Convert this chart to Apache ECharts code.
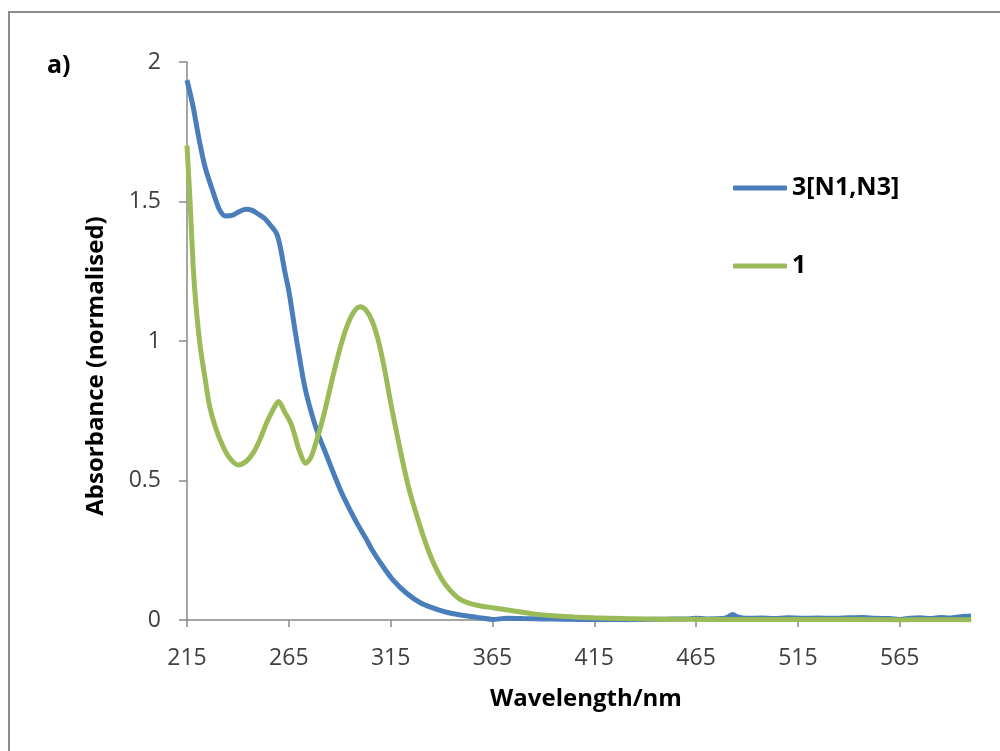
<!DOCTYPE html>
<html>
<head>
<meta charset="utf-8">
<script src="https://cdn.jsdelivr.net/npm/echarts@6/dist/echarts.min.js"></script>
<style>
  html, body { margin: 0; padding: 0; background: #fff; }
  #chart { width: 1000px; height: 751px; }
</style>
</head>
<body>
<div id="chart"></div>
<script>
// x tick labels (nm)
const xTicks = [215, 265, 315, 365, 415, 465, 515, 565]
const yTicks = [0, 0.5, 1, 1.5, 2]

// 3[N1,N3] - [wavelength, absorbance]
const seriesBlue = [
  [215, 1.935], [218, 1.84], [221, 1.72], [224, 1.62], [228, 1.53], [231, 1.47],
  [234, 1.448], [237, 1.45], [241, 1.465], [244, 1.472], [247, 1.468], [250, 1.455],
  [253, 1.44], [256, 1.415], [259, 1.385], [261, 1.33], [263, 1.25], [265, 1.18],
  [268, 1.04], [270.5, 0.93], [273, 0.83], [277, 0.72], [280, 0.655], [283, 0.6],
  [287, 0.525], [291, 0.455], [295, 0.395], [299, 0.34], [303, 0.29], [306, 0.25],
  [310, 0.205], [316, 0.145], [323, 0.095], [330, 0.06], [337, 0.04], [344, 0.025],
  [352, 0.015], [360, 0.007], [365, 0.002], [372, 0.006], [380, 0.005], [390, 0.004],
  [400, 0.003], [410, 0.002], [420, 0.002], [430, 0.001], [440, 0.002], [450, 0.003],
  [460, 0.004], [465, 0.006], [470, 0.004], [478, 0.005], [481, 0.012], [483, 0.02],
  [485, 0.012], [490, 0.006], [497, 0.007], [503, 0.005], [510, 0.008], [518, 0.006],
  [525, 0.007], [532, 0.006], [540, 0.008], [547, 0.009], [553, 0.006], [560, 0.005],
  [565, 0.002], [570, 0.006], [575, 0.008], [580, 0.005], [585, 0.009], [590, 0.007],
  [595, 0.012], [600, 0.014]
]

// 1 - [wavelength, absorbance]
const seriesGreen = [
  [215, 1.70], [216.5, 1.5], [218, 1.27], [219.5, 1.12], [221.5, 0.98], [224, 0.86],
  [226, 0.77], [229, 0.69], [232.8, 0.62], [236, 0.58], [240, 0.556], [244, 0.568],
  [247.6, 0.6], [251, 0.65], [254, 0.705], [257, 0.75], [260, 0.783], [263, 0.745],
  [266, 0.705], [268, 0.66], [270, 0.61], [273.4, 0.562], [276, 0.585], [278.7, 0.645],
  [282, 0.73], [287, 0.884], [290, 0.97], [293.4, 1.05], [297, 1.105], [300, 1.123],
  [303, 1.11], [306, 1.07], [309, 1.0], [312, 0.9], [315, 0.78], [318, 0.67],
  [321, 0.565], [324, 0.47], [328, 0.37], [332, 0.28], [336, 0.205], [340, 0.148],
  [344, 0.108], [348, 0.08], [352, 0.064], [358, 0.052], [365, 0.044], [375, 0.033],
  [385, 0.022], [395, 0.015], [405, 0.011], [415, 0.008], [430, 0.005], [450, 0.003],
  [470, 0.002], [500, 0.002], [530, 0.002], [555, 0.001], [565, 0.0], [575, 0.001],
  [590, 0.001], [600, 0.001]
]

const seriesNames = ['3[N1,N3]', '1']

const chart = echarts.init(document.getElementById('chart'), null, { renderer: 'canvas' })
const font = 'Open Sans'
const axisGrey = '#888888'

chart.setOption({
  animation: false,
  backgroundColor: '#fff',
  graphic: [
    { // outer frame
      type: 'rect',
      shape: { x: 9, y: 12, width: 1000, height: 800 },
      style: { fill: 'none', stroke: '#8c8c8c', lineWidth: 2 }
    },
    {
      type: 'text',
      left: 47,
      top: 53,
      style: { text: 'a)', font: 'bold 25px "Open Sans"', fill: '#000' }
    },
    { // y axis title, sits a bit lower than the plot centre
      type: 'text',
      x: 96,
      y: 366,
      rotation: Math.PI / 2,
      style: {
        text: 'Absorbance (normalised)',
        font: 'bold 24px "Open Sans"',
        fill: '#000',
        align: 'center',
        verticalAlign: 'middle'
      }
    }
  ],
  grid: { left: 187, right: 29, top: 62, bottom: 131 },
  legend: {
    orient: 'vertical',
    left: 728,
    top: 169,
    itemWidth: 54,
    itemHeight: 5,
    itemGap: 50,
    icon: 'roundRect',
    textStyle: { fontFamily: font, fontWeight: 'bold', fontSize: 25, color: '#000', lineHeight: 28 },
    data: seriesNames
  },
  xAxis: {
    type: 'value',
    min: 215,
    max: 600,
    name: 'Wavelength/nm',
    nameLocation: 'middle',
    nameGap: 67,
    nameTextStyle: { fontFamily: font, fontWeight: 'bold', fontSize: 24, color: '#000', padding: [0, 0, 0, 14] },
    splitLine: { show: false },
    axisLine: { lineStyle: { color: axisGrey, width: 1.5 } },
    axisTick: { show: true, length: 7, customValues: xTicks, lineStyle: { color: axisGrey, width: 1.5 } },
    axisLabel: { customValues: xTicks, margin: 27, fontFamily: font, fontSize: 23, color: '#404040' }
  },
  yAxis: {
    type: 'value',
    min: 0,
    max: 2,
    interval: 0.5,
    splitLine: { show: false },
    axisLine: { show: true, lineStyle: { color: axisGrey, width: 1.5 } },
    axisTick: { show: true, length: 8, lineStyle: { color: axisGrey, width: 1.5 } },
    axisLabel: { customValues: yTicks, margin: 26, fontFamily: font, fontSize: 23, color: '#404040' }
  },
  series: [
    {
      name: seriesNames[0],
      type: 'line',
      data: seriesBlue,
      showSymbol: false,
      smooth: 0.3,
      color: '#4a7ebb',
      lineStyle: { width: 5, color: '#4a7ebb' }
    },
    {
      name: seriesNames[1],
      type: 'line',
      data: seriesGreen,
      showSymbol: false,
      smooth: 0.3,
      color: '#9bbb59',
      lineStyle: { width: 5, color: '#9bbb59' }
    }
  ]
})
</script>
</body>
</html>
